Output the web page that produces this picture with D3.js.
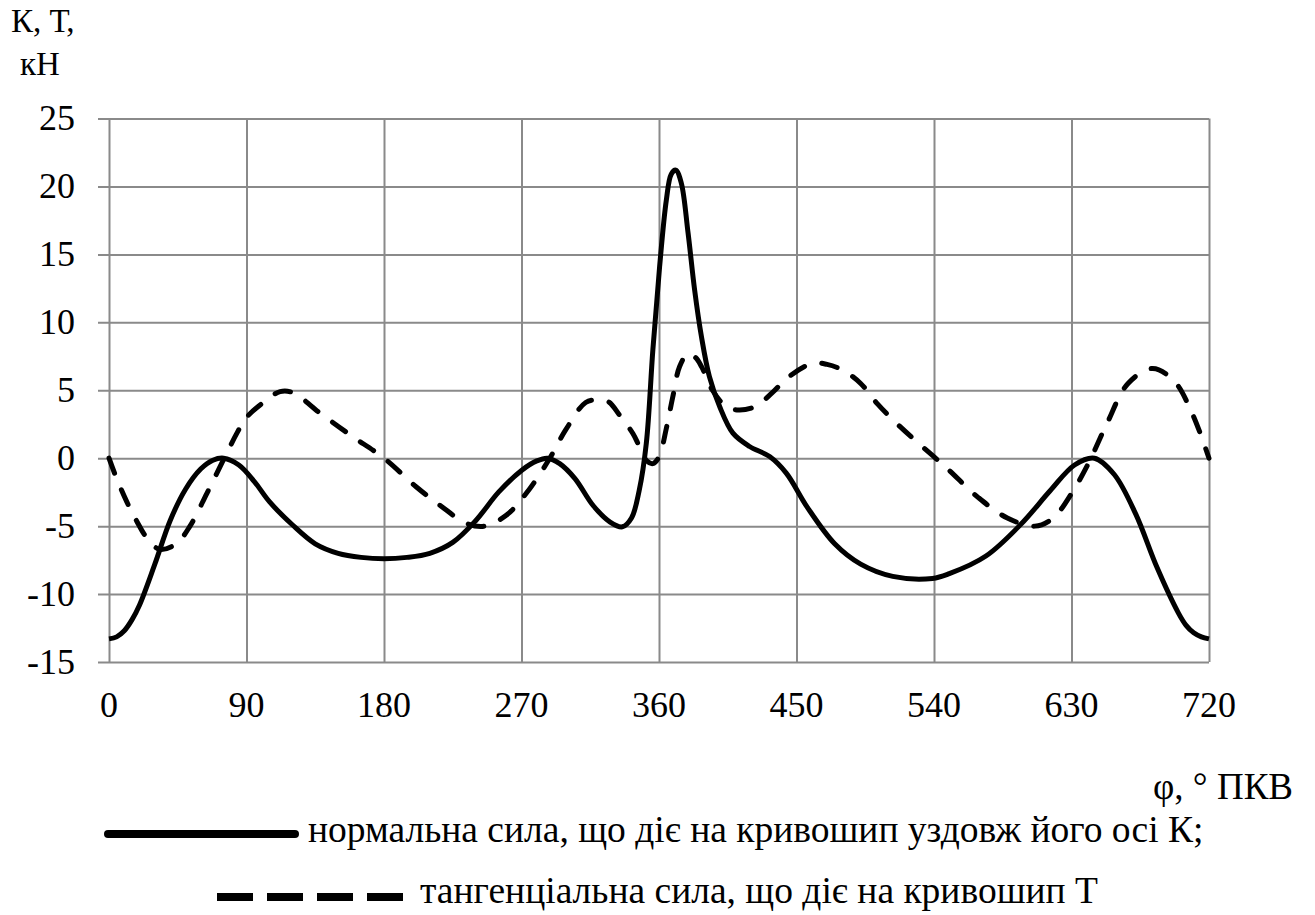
<!DOCTYPE html>
<html>
<head>
<meta charset="utf-8">
<script src="https://cdn.jsdelivr.net/npm/d3@7"></script>
<style>
  html, body { margin: 0; padding: 0; background: #fff; }
  svg { display: block; }
</style>
</head>
<body>
<svg id="chart" width="1315" height="915"></svg>
<script>
// ---- data ----
const xTicks = [0, 90, 180, 270, 360, 450, 540, 630, 720];
const yTicks = [-15, -10, -5, 0, 5, 10, 15, 20, 25];

const phiK = [0, 5, 10, 15, 20, 30, 40, 50, 60, 68, 75, 85, 95, 105, 120, 135, 150, 165, 180, 195, 210, 225, 240, 255, 270, 280, 287, 295, 305, 317, 328, 336, 342, 347, 351.7, 356, 360.4, 364.8, 368, 371, 374.6, 379, 383.3, 387.7, 393, 399.7, 408.4, 419.3, 432.4, 443.3, 457, 475, 492, 513, 539, 550, 574, 597, 616, 632, 645, 658, 672, 686, 700, 705, 710, 715, 720];
const valK = [-13.3, -13.15, -12.7, -11.9, -10.8, -7.8, -4.6, -2.3, -0.8, -0.15, 0, -0.5, -1.7, -3.2, -4.9, -6.3, -7.0, -7.3, -7.4, -7.3, -7.0, -6.2, -4.6, -2.5, -0.9, -0.2, 0, -0.4, -1.5, -3.5, -4.7, -5.05, -4.4, -2.4, 1.1, 8.0, 14.1, 19.0, 20.9, 21.2, 20.25, 16.6, 12.4, 9.0, 6.0, 3.8, 1.84, 0.86, 0.12, -1.1, -3.6, -6.3, -7.8, -8.7, -8.85, -8.5, -7.2, -4.85, -2.4, -0.5, 0, -1.2, -4.1, -8.05, -11.4, -12.3, -12.85, -13.15, -13.3];

const phiT = [0, 5, 11.6, 18, 25, 33, 44, 53, 64, 75, 84, 90, 101, 112, 121, 136, 158, 180, 201, 217, 234, 246, 260, 273, 288, 299, 312, 320, 327, 334, 343, 347, 352, 356, 360, 365, 369, 373.5, 379, 384, 388, 395, 404, 412, 423, 434, 445, 461, 470, 480, 492, 503, 518, 539, 550, 569, 588, 606, 618, 630, 641, 653, 667, 683, 697, 709, 720];
const valT = [0, -1.5, -3.2, -4.6, -5.9, -6.7, -6.3, -5.0, -2.6, -0.1, 1.9, 3.0, 4.1, 4.9, 4.8, 3.5, 1.7, 0, -2.1, -3.5, -4.8, -5.0, -4.2, -2.6, -0.1, 2.1, 4.1, 4.3, 4.15, 3.2, 1.8, 0.9, -0.2, -0.4, 0.1, 2.3, 4.5, 6.75, 7.7, 7.4, 6.7, 5.0, 3.8, 3.55, 3.8, 4.8, 6.0, 7.0, 6.9, 6.5, 5.5, 4.0, 2.3, 0.2, -0.9, -2.9, -4.4, -5.0, -4.4, -2.6, -0.4, 2.5, 5.5, 6.6, 5.7, 3.3, 0];

const yTitle1 = "К, Т,";
const yTitle2 = "кН";
const xTitle = "φ, ° ПКВ";
const legendK = "нормальна сила, що діє на кривошип уздовж його осі К;";
const legendT = "тангенціальна сила, що діє на кривошип Т";

// ---- layout ----
const L = 109, R = 1209, T = 118.5, B = 662;
const FONT = '"Liberation Serif", "Times New Roman", serif';
const svg = d3.select("#chart");
const x = d3.scaleLinear().domain([0, 720]).range([L, R]);
const y = d3.scaleLinear().domain([-15, 25]).range([B, T]);
const gridColor = "#8a8a8a";

// horizontal grid (with outward ticks on left)
svg.append("g")
  .attr("transform", `translate(${L},0)`)
  .call(d3.axisLeft(y).tickValues(yTicks).tickSize(-(R - L)).tickSizeOuter(0).tickFormat(""))
  .call(g => g.select(".domain").remove())
  .call(g => g.selectAll("line").attr("stroke", gridColor).attr("stroke-width", 2).attr("x1", -11));

// vertical grid
svg.append("g")
  .attr("transform", `translate(0,${B})`)
  .call(d3.axisBottom(x).tickValues(xTicks).tickSize(-(B - T)).tickSizeOuter(0).tickFormat(""))
  .call(g => g.select(".domain").remove())
  .call(g => g.selectAll("line").attr("stroke", gridColor).attr("stroke-width", 2));

const txt = (sel) => sel.style("font-family", FONT).attr("fill", "#000");

// tick labels
svg.append("g").selectAll("text").data(yTicks).join("text").call(txt)
  .attr("x", 75).attr("y", d => y(d)).attr("dy", "0.32em")
  .attr("text-anchor", "end").attr("font-size", 36).text(d => d);
svg.append("g").selectAll("text").data(xTicks).join("text").call(txt)
  .attr("x", d => x(d)).attr("y", 717)
  .attr("text-anchor", "middle").attr("font-size", 36).text(d => d);

// lines
const line = d3.line().x(d => x(d[0])).y(d => y(d[1])).curve(d3.curveCatmullRom.alpha(0.5));
const dataK = phiK.map((p, i) => [p, valK[i]]);
const dataT = phiT.map((p, i) => [p, valT[i]]);

svg.append("path").datum(dataT).attr("d", line)
  .attr("fill", "none").attr("stroke", "#000").attr("stroke-width", 5)
  .attr("stroke-dasharray", "16,18").attr("stroke-linecap", "round");
svg.append("path").datum(dataK).attr("d", line)
  .attr("fill", "none").attr("stroke", "#000").attr("stroke-width", 5)
  .attr("stroke-linejoin", "round");

// axis titles
svg.append("text").call(txt).attr("x", 11).attr("y", 32).attr("font-size", 33).text(yTitle1);
svg.append("text").call(txt).attr("x", 20).attr("y", 75).attr("font-size", 33).text(yTitle2);
svg.append("text").call(txt).attr("x", 1293).attr("y", 799).attr("text-anchor", "end").attr("font-size", 37).text(xTitle);

// legend
svg.append("line").attr("x1", 108).attr("x2", 295).attr("y1", 834).attr("y2", 834)
  .attr("stroke", "#000").attr("stroke-width", 8).attr("stroke-linecap", "round");
svg.append("text").call(txt).attr("x", 308).attr("y", 842).attr("font-size", 37.5).text(legendK);
svg.append("line").attr("x1", 217).attr("x2", 403).attr("y1", 897).attr("y2", 897)
  .attr("stroke", "#000").attr("stroke-width", 8).attr("stroke-dasharray", "36,14");
svg.append("text").call(txt).attr("x", 420).attr("y", 903).attr("font-size", 37.5).text(legendT);
</script>
</body>
</html>
